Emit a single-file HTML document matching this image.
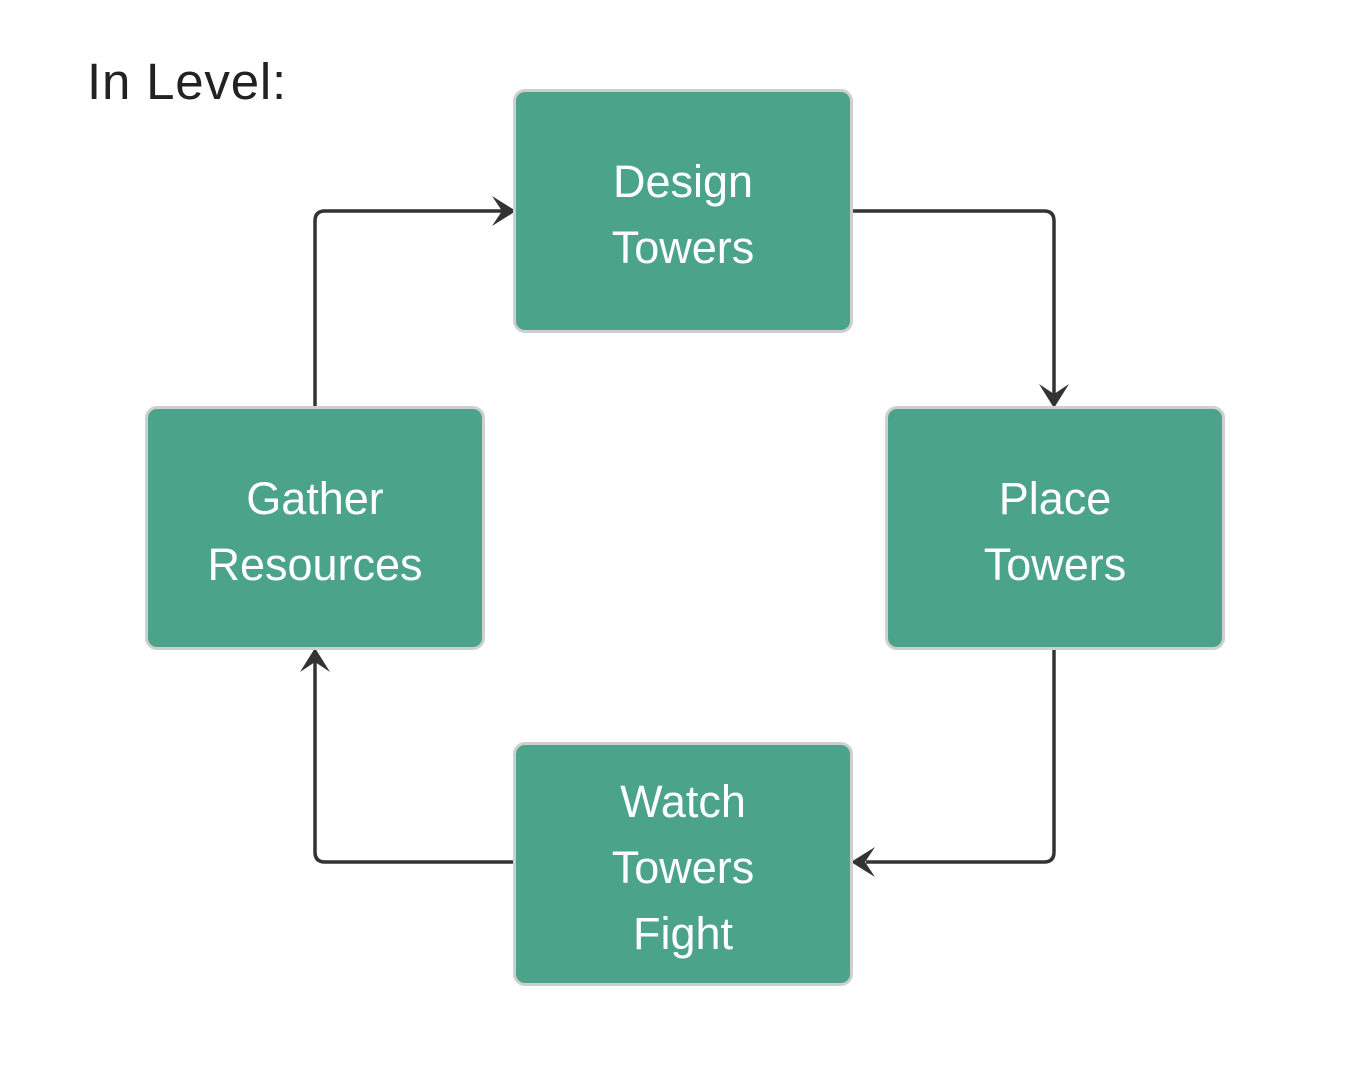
<!DOCTYPE html>
<html><head><meta charset="utf-8"><style>
html,body{margin:0;padding:0;background:#fff;}
body{width:1360px;height:1074px;position:relative;overflow:hidden;font-family:"Liberation Sans",sans-serif;}
.box{position:absolute;width:334px;height:238px;box-sizing:content-box;background:#4ba48a;border:3px solid #cfcfcf;border-radius:12px;display:flex;align-items:center;justify-content:center;text-align:center;color:#fff;font-size:45px;line-height:66px;padding-top:0;}
.box span{position:relative;top:4px;}
.t{position:absolute;left:87px;top:52px;font-size:51px;letter-spacing:0.8px;color:#222;}
</style></head><body>
<div class="t">In Level:</div>
<svg width="1360" height="1074" style="position:absolute;left:0;top:0">
<g fill="none" stroke="#333" stroke-width="3.5">
<path d="M852 211 H1044 Q1054 211 1054 221 V395"/>
<path d="M1054 650 V852 Q1054 862 1044 862 H866"/>
<path d="M515 862 H325 Q315 862 315 852 V662"/>
<path d="M315 408 V221 Q315 211 325 211 H502"/>
</g>
<g fill="#333">
<path d="M1054 408 L1039 384 L1054 394 L1069 384 Z"/>
<path d="M851 862 L875 847 L865 862 L875 877 Z"/>
<path d="M315 648 L300 672 L315 662 L330 672 Z"/>
<path d="M516 211 L492 196 L502 211 L492 226 Z"/>
</g>
</svg>
<div class="box" style="left:513px;top:89px"><span>Design<br>Towers</span></div>
<div class="box" style="left:885px;top:406px"><span>Place<br>Towers</span></div>
<div class="box" style="left:145px;top:406px"><span>Gather<br>Resources</span></div>
<div class="box" style="left:513px;top:742px"><span>Watch<br>Towers<br>Fight</span></div>
</body></html>
